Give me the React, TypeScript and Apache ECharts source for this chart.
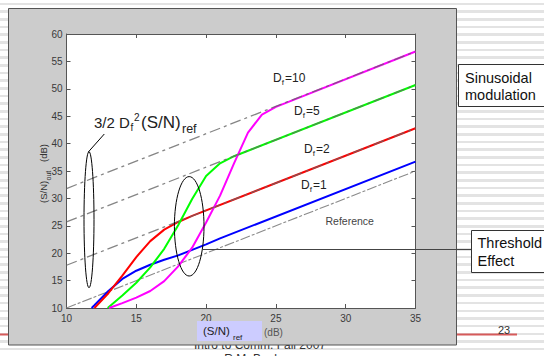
import React, { useEffect, useRef } from "react";
import * as echarts from "echarts";

// Axis ticks
const xTicks = [10, 15, 20, 25, 30, 35];
const yTicks = [10, 15, 20, 25, 30, 35, 40, 45, 50, 55, 60];

// (S/N)ref in dB vs (S/N)out in dB
const referenceLine = [[10, 10], [35, 35]];
const df1Curve = [[11.8, 10.0], [12, 10.5], [13, 13.1], [14, 15.3], [15, 16.8], [16, 17.9], [17, 18.8], [18, 19.6], [19, 20.6], [20, 21.6], [21, 22.7], [35, 36.7]];
const df2Curve = [[12.0, 10.0], [13, 12.7], [14, 15.9], [15, 19.3], [16, 22.2], [17, 24.3], [18, 25.7], [19, 26.8], [35, 42.8]];
const df5Curve = [[12.95, 10.0], [14, 12.3], [15, 14.6], [16, 17.4], [17, 20.8], [18, 25.1], [19, 29.9], [20, 34.1], [21, 36.4], [22, 37.7], [35, 50.7]];
const df10Curve = [[13.05, 10.0], [14, 10.9], [15, 11.9], [16, 13.1], [17, 14.9], [18, 17.6], [19, 21.0], [20, 25.6], [21, 30.5], [22, 36.4], [23, 42.0], [24, 45.3], [25, 46.7], [35, 56.8]];
// 3/2 Df^2 (S/N)ref asymptotes
const df2Asymptote = [[10, 17.8], [35, 42.8]];
const df5Asymptote = [[10, 25.7], [35, 50.7]];
const df10Asymptote = [[10, 31.8], [35, 56.8]];

const FONT = '"Liberation Sans", Arial, Helvetica, sans-serif';

function txt(text: string, x: number, y: number, size: number, fill = "#222", extra: any = {}) {
  const { style, ...rest } = extra;
  return {
    type: "text",
    x,
    y,
    z: 20,
    ...rest,
    style: { text, fill, font: `${size}px ${FONT}`, align: "left", verticalAlign: "middle", ...(style || {}) },
  };
}

function dfLabel(num: string, x: number, y: number) {
  return [
    txt("D", x, y, 12),
    txt("f", x + 8.8, y + 4.5, 8),
    txt("=" + num, x + 12, y, 12),
  ];
}

export default function App() {
  const backRef = useRef<HTMLDivElement>(null);
  const ref = useRef<HTMLDivElement>(null);
  useEffect(() => {
    if (!ref.current || !backRef.current) return;
    // slide layer behind the figure window
    const back = echarts.init(backRef.current, undefined, { renderer: "svg" });
    back.setOption({
      animation: false,
      backgroundColor: "transparent",
      graphic: {
        elements: [
          { type: "line", shape: { x1: 0, y1: 334.5, x2: 517, y2: 334.5 }, style: { stroke: "#d65a5a", lineWidth: 2 } },
          txt("23", 504, 330, 11, "#333", { style: { align: "center" } }),
          txt("Intro to Comm. Fall 2007", 260, 344.5, 12, "#333", { style: { align: "center" } }),
          txt("R.M. Buehrer", 260, 358.5, 12, "#333", { style: { align: "center" } }),
        ],
      },
    });

    const chart = echarts.init(ref.current, undefined, { renderer: "svg" });
    const axisLineStyle = { color: "#555", width: 1 };
    const xBase = {
      type: "value",
      min: xTicks[0],
      max: xTicks[xTicks.length - 1],
      interval: 5,
      axisLine: { show: true, onZero: false, lineStyle: axisLineStyle },
      axisTick: { show: true, inside: true, length: 4, lineStyle: axisLineStyle },
      splitLine: { show: false },
    };
    const yBase = {
      type: "value",
      min: yTicks[0],
      max: yTicks[yTicks.length - 1],
      interval: 5,
      axisLine: { show: true, onZero: false, lineStyle: axisLineStyle },
      axisTick: { show: true, inside: true, length: 4, lineStyle: axisLineStyle },
      splitLine: { show: false },
    };
    const lineSeries = (name: string, data: number[][], color: string, width: number, z: number, type: any = "solid", opacity = 1) => ({
      name,
      type: "line",
      data,
      showSymbol: false,
      symbol: "none",
      z,
      lineStyle: { color, width, type, opacity },
      emphasis: { disabled: true },
    });
    const dashPattern = [11, 4, 3, 4];
    chart.setOption({
      animation: false,
      backgroundColor: "transparent",
      grid: { left: 66.5, top: 34, width: 349, height: 274, show: true, backgroundColor: "#ffffff", borderWidth: 0 },
      xAxis: [
        { ...xBase, position: "bottom", axisLabel: { color: "#3a3a3a", fontSize: 10, fontFamily: FONT, margin: 5 } },
        { ...xBase, position: "top", axisLabel: { show: false } },
      ],
      yAxis: [
        { ...yBase, position: "left", axisLabel: { color: "#3a3a3a", fontSize: 10, fontFamily: FONT, margin: 4 } },
        { ...yBase, position: "right", axisLabel: { show: false } },
      ],
      series: [
        lineSeries("Reference", referenceLine, "#8a8a8a", 1.1, 3, [10, 2, 3, 2]),
        lineSeries("Df=1", df1Curve, "#0000ff", 2, 4),
        lineSeries("Df=2", df2Curve, "#ff0000", 2, 4),
        lineSeries("Df=5", df5Curve, "#00ff00", 2, 4),
        lineSeries("Df=10", df10Curve, "#ff00ff", 2, 4),
        lineSeries("3/2 Df^2 (S/N)ref, Df=2", df2Asymptote, "#666666", 1.3, 6, dashPattern, 0.8),
        lineSeries("3/2 Df^2 (S/N)ref, Df=5", df5Asymptote, "#666666", 1.3, 6, dashPattern, 0.8),
        lineSeries("3/2 Df^2 (S/N)ref, Df=10", df10Asymptote, "#666666", 1.3, 6, dashPattern, 0.8),
      ],
      graphic: {
        elements: [
          // figure window
          { type: "rect", z: -2, shape: { x: 8.5, y: 8.5, width: 448, height: 336.5 }, style: { fill: "#cccccc", stroke: "#555", lineWidth: 1 } },
          // y axis title
          txt("(S/N)", 43, 203, 9.5, "#333", { rotation: Math.PI / 2 }),
          txt("out", 48.5, 180.5, 7, "#333", { rotation: Math.PI / 2 }),
          txt("(dB)", 43, 162, 9.5, "#333", { rotation: Math.PI / 2 }),
          // x axis title
          { type: "rect", z: 15, shape: { x: 197, y: 321, width: 65, height: 20 }, style: { fill: "#ccccff" } },
          txt("(S/N)", 203, 330.5, 11.5, "#222"),
          txt("ref", 233, 337.5, 8, "#222"),
          txt("(dB)", 264, 332, 10, "#555"),
          // formula annotation
          txt("3/2 D", 94, 122.5, 15),
          txt("f", 130.5, 127.5, 10),
          txt("2", 134, 117.5, 10),
          txt("(S/N)", 141, 122.5, 17),
          txt("ref", 182, 129, 12.5),
          { type: "line", z: 20, shape: { x1: 88.3, y1: 152, x2: 104.3, y2: 134 }, style: { stroke: "#000", lineWidth: 1 } },
          { type: "ellipse", z: 20, shape: { cx: 89, cy: 219.7, rx: 5, ry: 68 }, style: { fill: "none", stroke: "#000", lineWidth: 1 } },
          { type: "ellipse", z: 20, shape: { cx: 189.2, cy: 226.3, rx: 14.8, ry: 49.7 }, style: { fill: "none", stroke: "#000", lineWidth: 1 } },
          // curve labels
          ...dfLabel("10", 273, 78.3),
          ...dfLabel("5", 294, 110.7),
          ...dfLabel("2", 304, 149),
          ...dfLabel("1", 301, 185),
          txt("Reference", 325.5, 221, 10.5, "#444"),
          // side notes
          { type: "rect", z: 20, shape: { x: 458.5, y: 64.5, width: 100, height: 42 }, style: { fill: "#ffffff", stroke: "#333", lineWidth: 1 } },
          txt("Sinusoidal", 465, 77.5, 14.5, "#111"),
          txt("modulation", 465, 94.5, 14.5, "#111"),
          { type: "line", z: 20, shape: { x1: 202, y1: 249.5, x2: 471.5, y2: 249.5 }, style: { stroke: "#444", lineWidth: 1.2 } },
          { type: "rect", z: 20, shape: { x: 471.5, y: 230.5, width: 90, height: 42 }, style: { fill: "#ffffff", stroke: "#333", lineWidth: 1 } },
          txt("Threshold", 477.5, 243, 14.5, "#111"),
          txt("Effect", 477.5, 261, 14.5, "#111"),
        ],
      },
    });
    return () => {
      chart.dispose();
      back.dispose();
    };
  }, []);
  const box = { position: "absolute" as const, left: 0, top: 0, width: 544, height: 356 };
  return (
    <div style={{ ...box, overflow: "hidden" }}>
      <div
        ref={backRef}
        style={{
          ...box,
          background:
            "repeating-linear-gradient(180deg, #ffffff 0px, #ffffff 2.7px, #e3e3e3 2.7px, #e3e3e3 5.2px, #ffffff 5.2px, #ffffff 7.67px)",
        }}
      />
      <div ref={ref} style={box} />
    </div>
  );
}
